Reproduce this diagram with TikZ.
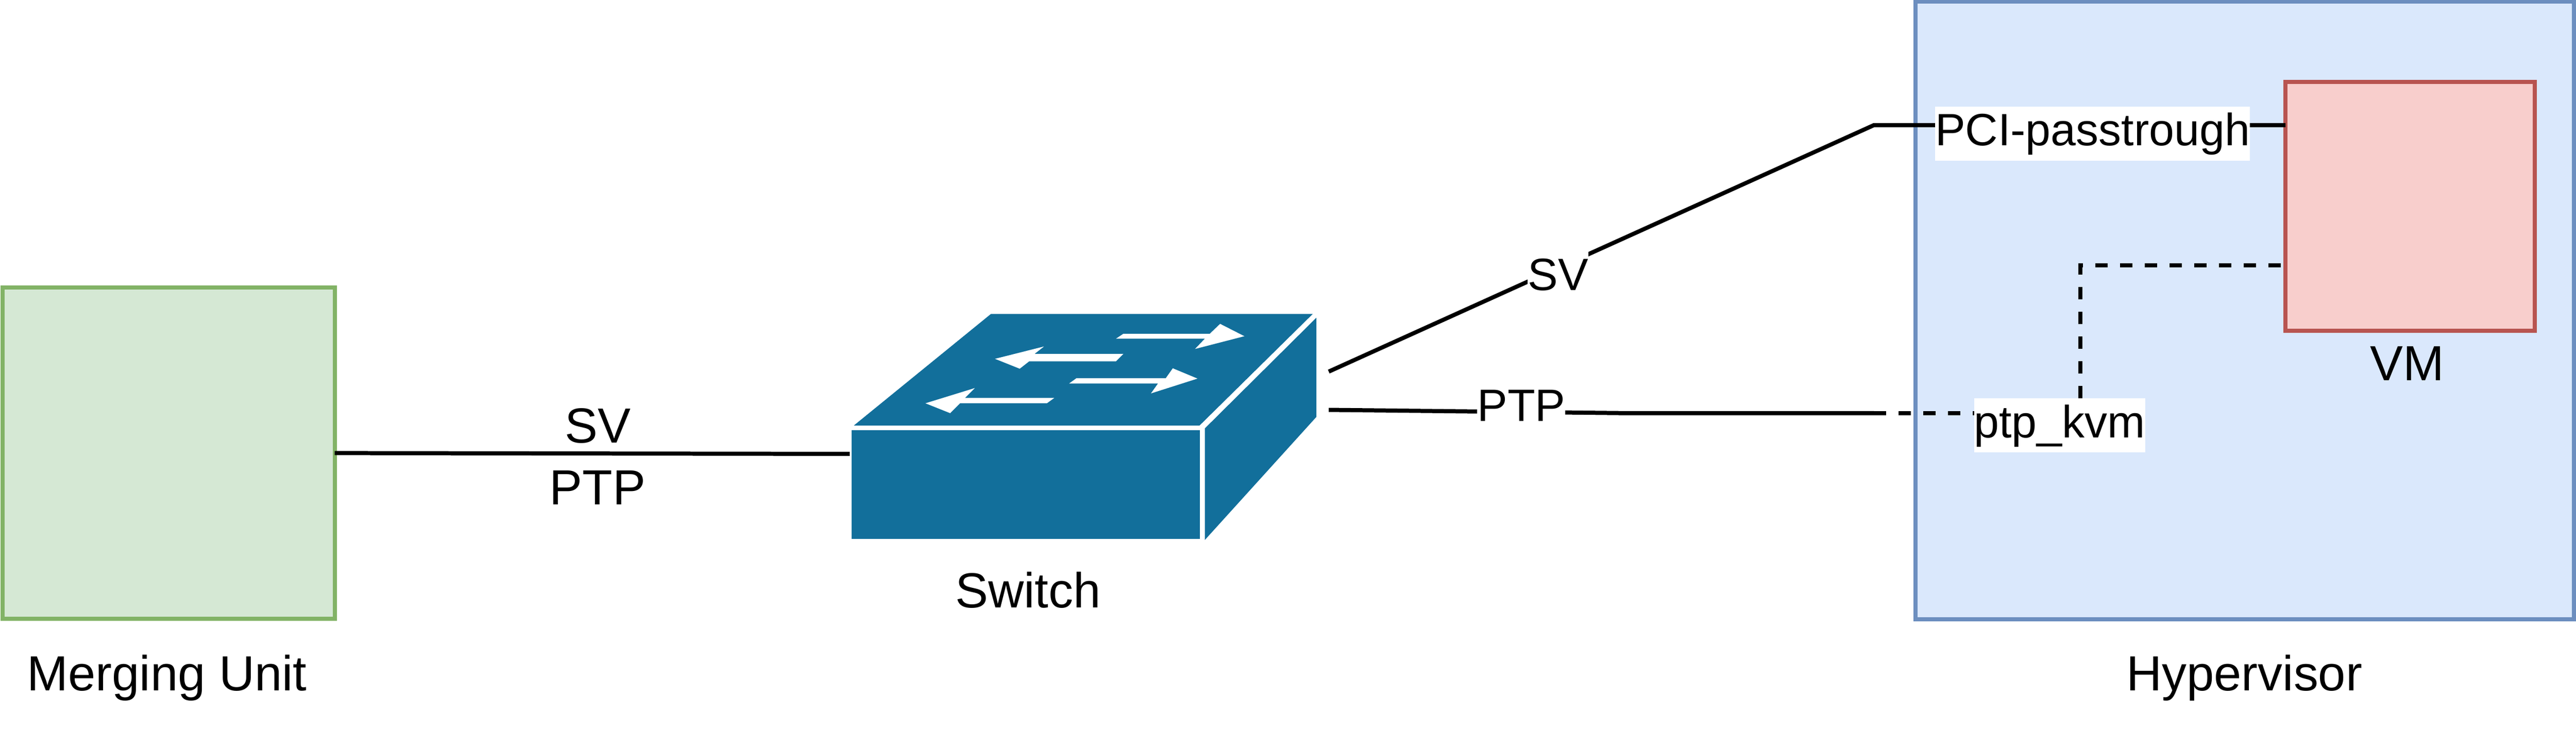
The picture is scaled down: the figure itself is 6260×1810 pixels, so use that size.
\documentclass[tikz,border=0pt]{standalone}
\usepackage{fontspec}
\setmainfont{Liberation Sans}
\usetikzlibrary{positioning}
\pgfdeclarelayer{boxlayer}
\pgfdeclarelayer{edgelayer}
\pgfsetlayers{boxlayer,edgelayer,main}
\definecolor{mufill}{HTML}{D5E8D4}
\definecolor{mudraw}{HTML}{82B366}
\definecolor{hvfill}{HTML}{DAE8FC}
\definecolor{hvdraw}{HTML}{6C8EBF}
\definecolor{vmfill}{HTML}{F8CECC}
\definecolor{vmdraw}{HTML}{B85450}
\definecolor{swfill}{HTML}{126F9B}
\tikzset{every node/.style={inner sep=0pt,outer sep=0pt}}
\tikzstyle{box}=[rectangle,line width=0.1cm]
\tikzstyle{bigtxt}=[anchor=base,font=\fontsize{34.1}{40}\selectfont]
\tikzstyle{lbl}=[anchor=base,fill=white,font=\fontsize{31.3}{37}\selectfont,text height=0.95cm,text depth=0.36cm]
\tikzstyle{wire}=[line width=0.1cm,black]
\tikzstyle{dashwire}=[wire,dash pattern=on 0.3cm off 0.3cm]
\begin{document}
\begin{tikzpicture}[x=0.01cm,y=-0.01cm]
\useasboundingbox (0,0) rectangle (6260,1810);
\begin{pgfonlayer}{boxlayer}
\node[box,draw=mudraw,fill=mufill,minimum width=8.07cm,minimum height=8.04cm] (mu) at (409.5,1101) {};
\node[box,draw=hvdraw,fill=hvfill,minimum width=16cm,minimum height=15cm] (hv) at (5455,754) {};
\node[box,draw=vmdraw,fill=vmfill,minimum width=6.05cm,minimum height=6.04cm] (vm) at (5856.5,501) {};
\end{pgfonlayer}
\node[bigtxt] (mutxt) at (406,1678) {Merging Unit};
\node[bigtxt] (hvtxt) at (5454,1678) {Hypervisor};
\node[bigtxt] (vmtxt) at (5850,925) {VM};
\node[bigtxt] (swtxt) at (2498,1477) {Switch};
\node[bigtxt] (sv) at (1453,1076) {SV};
\node[bigtxt] (ptp) at (1452,1226) {PTP};
\node[lbl] (svlbl) at (3786,705) {SV};
\node[lbl] (ptplbl) at (3697,1024) {PTP};
\node[lbl] (pci) at (5085,354) {PCI-passtrough};
\node[lbl] (kvm) at (5005,1063) {ptp\_kvm};
\fill[swfill] (2069,1046) -- (2916,1046) -- (2916,1310) -- (2069,1310) -- cycle;
\fill[swfill] (2928,1041) -- (3199,772) -- (3199,1013) -- (2928,1312) -- cycle;
\fill[swfill] (2075,1034) -- (2408,763) -- (3190,763) -- (2915,1034) -- cycle;
\fill[white] (2730,811) -- (2940,811) -- (2965,787) -- (3024,817) -- (2904,848) -- (2928,823) -- (2712,823) -- cycle;
\fill[white] (2730,860) -- (2712,878) -- (2501,878) -- (2478,896) -- (2418,872) -- (2537,842) -- (2514,860) -- cycle;
\fill[white] (2616,919) -- (2833,919) -- (2850,895) -- (2910,920) -- (2797,956) -- (2814,932) -- (2598,932) -- cycle;
\fill[white] (2562,967) -- (2544,980) -- (2333,980) -- (2309,1004) -- (2249,980) -- (2369,943) -- (2345,967) -- cycle;
\coordinate (swleft) at (2065,1103);
\coordinate (swsv) at (3229,903);
\coordinate (swptp) at (3229,996);
\coordinate (svbend) at (4554,304);
\coordinate (ptpknee) at (3952,1004);
\coordinate (ptpbend) at (4554,1004);
\coordinate (kvmbend) at (5055,645);
\begin{pgfonlayer}{edgelayer}
\draw[wire] (mu.east |- 0,1101) -- (swleft);
\draw[wire] (swsv) -- (svbend) -- (svbend -| vm.west);
\draw[wire] (swptp) -- (ptpknee) -- (ptpbend);
\draw[dashwire] (ptpbend) -- (ptpbend -| kvm.west);
\draw[dashwire] (kvmbend |- kvm.north) -- (kvmbend) -- (kvmbend -| vm.west);
\end{pgfonlayer}
\end{tikzpicture}
\end{document}
